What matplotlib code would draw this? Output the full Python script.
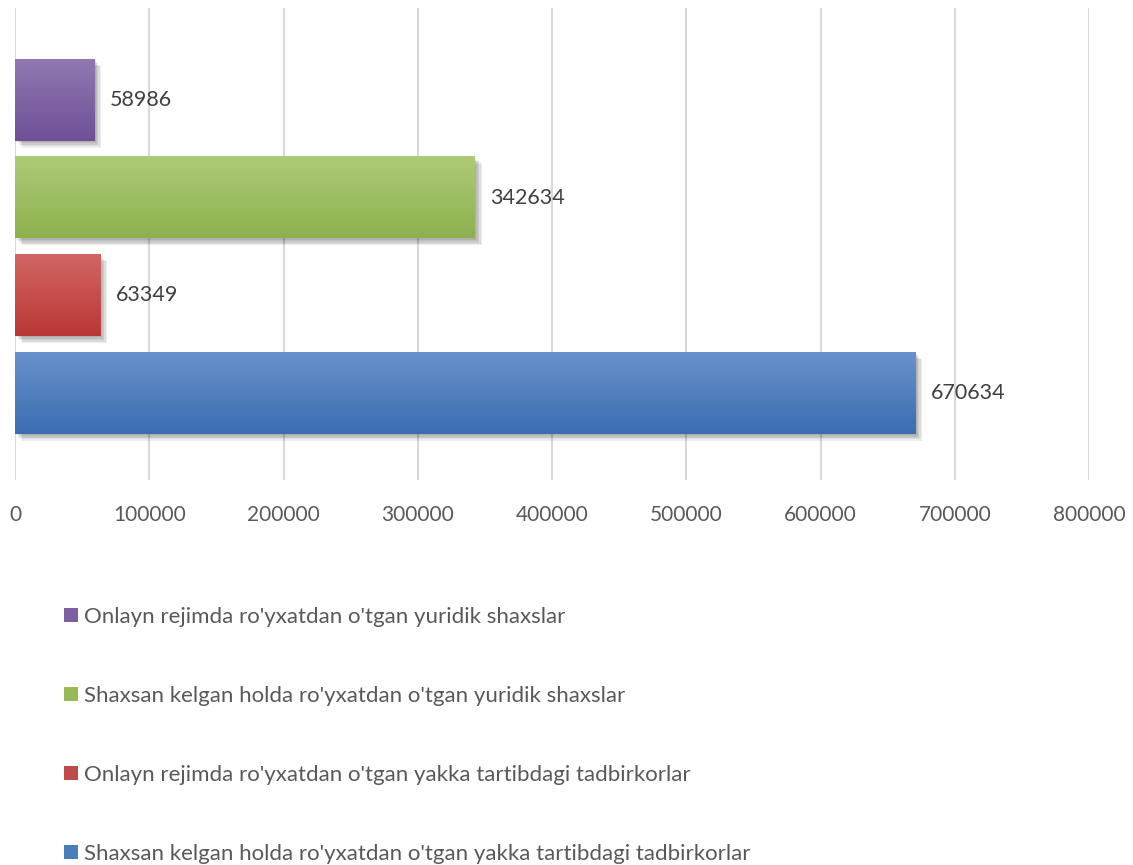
import numpy as np
import matplotlib
matplotlib.use('Agg')
import matplotlib.pyplot as plt
from matplotlib.patches import Patch
import matplotlib.patheffects as pe
from matplotlib.colors import LinearSegmentedColormap

plt.rcParams['font.family'] = ['Lato', 'DejaVu Sans']

# === data ===
labels = ["Shaxsan kelgan holda ro'yxatdan o'tgan yakka tartibdagi tadbirkorlar",
          "Onlayn rejimda ro'yxatdan o'tgan yakka tartibdagi tadbirkorlar",
          "Shaxsan kelgan holda ro'yxatdan o'tgan yuridik shaxslar",
          "Onlayn rejimda ro'yxatdan o'tgan yuridik shaxslar"]
values = [670634, 63349, 342634, 58986]
x_ticks = [0, 100000, 200000, 300000, 400000, 500000, 600000, 700000, 800000]

# top colour, bottom colour of each bar gradient
grad_colors = [('#6992CB', '#3A6DB1'),
               ('#D26664', '#B93734'),
               ('#AECB76', '#8DB04E'),
               ('#9079B0', '#6F4F99')]
legend_colors = ['#4A7EBB', '#BE4B48', '#98B954', '#7D60A0']

fig = plt.figure(figsize=(11.33, 8.65), dpi=100)
ax = fig.add_axes([15 / 1133, 1 - 480 / 865, (1089 - 15) / 1133, (480 - 8) / 865])

# soft shadow: a few stacked faint offsets
shadow = [pe.SimplePatchShadow(offset=(k, -k), shadow_rgbFace='black', alpha=0.07) for k in (1, 2, 3, 4, 5)]
pos = np.arange(len(values))
bars = ax.barh(pos, values, height=0.835, color=[c[1] for c in grad_colors], zorder=3,
               path_effects=shadow + [pe.Normal()])

# gradient overlay for each bar
for bar, (c_top, c_bot) in zip(bars, grad_colors):
    x0, y0 = bar.get_x(), bar.get_y()
    w, h = bar.get_width(), bar.get_height()
    cmap = LinearSegmentedColormap.from_list('g', [c_bot, c_top])
    grad = np.linspace(0, 1, 256).reshape(-1, 1)
    ax.imshow(grad, extent=[x0, x0 + w, y0, y0 + h], origin='lower', aspect='auto',
              cmap=cmap, zorder=4)

for bar, v in zip(bars, values):
    ax.text(v + 11500, bar.get_y() + bar.get_height() / 2, str(v), va='center', ha='left',
            fontsize=15.5, color='#404040', zorder=5)

ax.set_xlim(0, 800000)
ax.set_ylim(-0.89, 3.94)
ax.set_xticks(x_ticks)
ax.set_xticklabels([str(t) for t in x_ticks], fontsize=15, color='#595959')
ax.set_yticks([])
ax.tick_params(axis='x', length=0, pad=18)
ax.grid(axis='x', color='#D9D9D9', linewidth=1.5, zorder=0)
for s in ax.spines.values():
    s.set_visible(False)

# legend (vertical, purple first)
handles = [Patch(facecolor=legend_colors[i], edgecolor='none', label=labels[i]) for i in range(3, -1, -1)]
fig.legend(handles=handles, loc='upper left', bbox_to_anchor=(44 / 1133, 1 - 587 / 865),
           frameon=False, fontsize=16, labelcolor='#595959', handlelength=0.62, handleheight=0.62,
           handletextpad=0.3, labelspacing=2.65)

fig.savefig('out.png', dpi=100)
